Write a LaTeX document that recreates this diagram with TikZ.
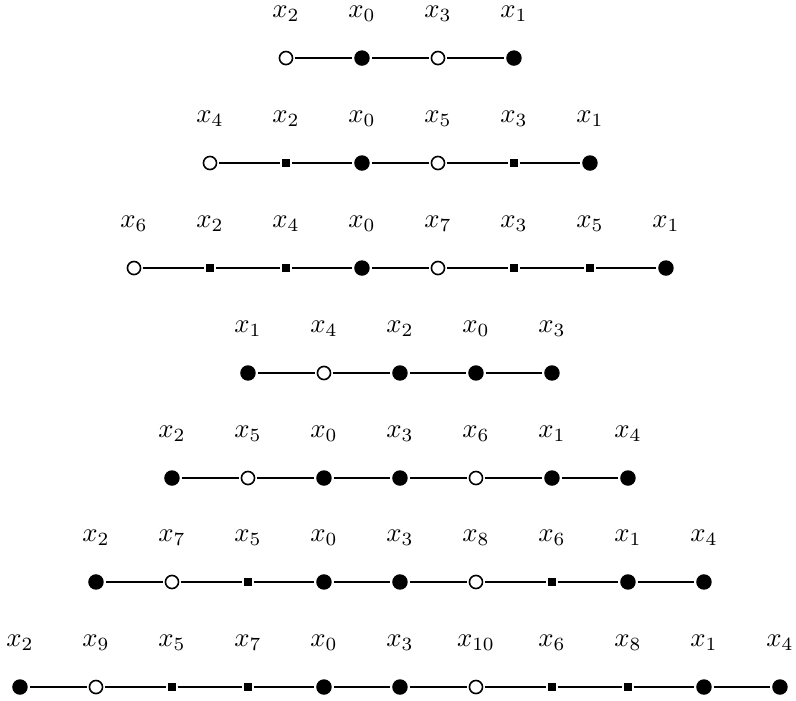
\documentclass[tikz,border=0pt]{standalone}
\usepackage{tikz}
\usetikzlibrary{positioning}

\begin{document}
\begin{tikzpicture}[
  x=1cm, y=1cm,
  full/.style={circle, fill, inner sep=0pt, minimum size=5.8pt, outer sep=0.8pt},
  hollow/.style={circle, draw, fill=white, line width=0.6pt, inner sep=0pt, minimum size=4.9pt, outer sep=0.8pt},
  sq/.style={rectangle, fill, inner sep=0pt, minimum size=2.7pt, outer sep=0.8pt},
  lab/.style={anchor=base, inner sep=0pt},
  edge/.style={semithick}
]
\useasboundingbox (0,0) rectangle (10.474,9.211);
% one row per path: row / height / first column / kind of vertex and index
\foreach \row/\yy/\xs/\items in {
  1/8.447/3.763/{hollow/2,full/0,hollow/3,full/1},
  2/7.066/2.763/{hollow/4,sq/2,full/0,hollow/5,sq/3,full/1},
  3/5.684/1.763/{hollow/6,sq/2,sq/4,full/0,hollow/7,sq/3,sq/5,full/1},
  4/4.303/3.263/{full/1,hollow/4,full/2,full/0,full/3},
  5/2.921/2.263/{full/2,hollow/5,full/0,full/3,hollow/6,full/1,full/4},
  6/1.553/1.263/{full/2,hollow/7,sq/5,full/0,full/3,hollow/8,sq/6,full/1,full/4},
  7/0.171/0.263/{full/2,hollow/9,sq/5,sq/7,full/0,full/3,hollow/10,sq/6,sq/8,full/1,full/4}}{
  \foreach \kind/\idx [count=\i from 0] in \items {
    \node[\kind] (v\row-\i) at (\xs+\i,\yy) {};
    \node[lab] (l\row-\i) at (\xs+\i,\yy+0.53) {$x_{\idx}$};
    \ifnum\i>0
      \pgfmathtruncatemacro\prev{\i-1}
      \draw[edge] (v\row-\prev) -- (v\row-\i);
    \fi
  }
}
\end{tikzpicture}
\end{document}
